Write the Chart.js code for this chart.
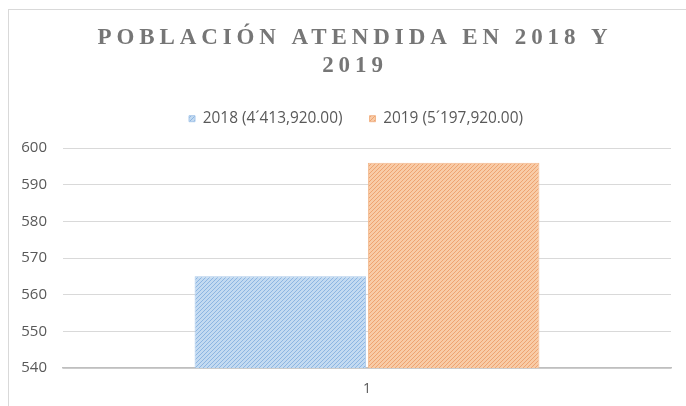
<!DOCTYPE html>
<html>
<head>
<meta charset="utf-8">
<script src="https://cdn.jsdelivr.net/npm/chart.js@4"></script>
<style>
  html, body { margin: 0; padding: 0; background: #fff; overflow: hidden; }
  #box { position: absolute; left: 8px; top: 9px; width: 700px; height: 420px; border: 1px solid #d9d9d9; }
  #wrap { position: absolute; left: 0; top: 0; width: 694px; height: 396px; }
</style>
</head>
<body>
<div id="box"><div id="wrap"><canvas id="myChart"></canvas></div></div>
<script>
var categories = ['1'];
var labels = ['2018 (4\u00b4413,920.00)', '2019 (5\u00b4197,920.00)'];
var values2018 = [565];
var values2019 = [596];
var titleLines = ['POBLACIÓN ATENDIDA EN 2018 Y', '2019'];

// rayado diagonal como en el original
function hatch(bg, line) {
    var c = document.createElement('canvas');
    c.width = 4; c.height = 4;
    var x = c.getContext('2d');
    x.fillStyle = bg;
    x.fillRect(0, 0, 4, 4);
    x.strokeStyle = line;
    x.lineWidth = 1;
    x.beginPath();
    x.moveTo(0, 4); x.lineTo(4, 0);
    x.moveTo(-1, 1); x.lineTo(1, -1);
    x.moveTo(3, 5); x.lineTo(5, 3);
    x.stroke();
    return x.createPattern(c, 'repeat');
}

var layoutTop = 74;
var plotTop = 138;

var titlePlugin = {
    id: 'spacedTitle',
    afterInit: function (chart) {
        // leyenda con altura fija para dejar el hueco hasta el área del gráfico
        var lg = chart.legend;
        if (lg) {
            var fit = lg.fit;
            lg.fit = function () {
                fit.call(this);
                this.height = plotTop - layoutTop;
            };
        }
    },
    afterLayout: function (chart) {
        // centrar la leyenda sobre todo el ancho, como el título
        var lg = chart.legend;
        if (lg) {
            lg.left = 0;
            lg.right = chart.width;
            lg.width = chart.width;
        }
    },
    afterDraw: function (chart) {
        var ctx = chart.ctx;
        ctx.save();
        ctx.font = 'bold 23px "Liberation Serif", serif';
        ctx.fillStyle = '#767676';
        ctx.textAlign = 'center';
        ctx.textBaseline = 'middle';
        if ('letterSpacing' in ctx) ctx.letterSpacing = '4.9px';
        var cx = chart.width / 2 - 1;
        ctx.fillText(titleLines[0], cx, 28);
        ctx.fillText(titleLines[1], cx, 56);
        ctx.restore();
    }
};

var ctx = document.getElementById('myChart').getContext('2d');

var popChart = new Chart(ctx, {
    type: 'bar',
    data: {
        labels: categories,
        datasets: [{
            label: labels[0],
            data: values2018,
            backgroundColor: hatch('#c3daf1', '#8db6e2'),
            borderColor: '#a9c8ea',
            borderWidth: 1
        }, {
            label: labels[1],
            data: values2019,
            backgroundColor: hatch('#f8cba6', '#eea371'),
            borderColor: '#f2b68a',
            borderWidth: 1
        }]
    },
    options: {
        responsive: true,
        maintainAspectRatio: false,
        animation: false,
        layout: { padding: { top: layoutTop, right: 32, bottom: 0, left: 0 } },
        datasets: { bar: { categoryPercentage: 0.57, barPercentage: 0.99 } },
        plugins: {
            title: { display: false },
            tooltip: { enabled: false },
            legend: {
                display: true,
                position: 'top',
                labels: {
                    boxWidth: 6,
                    boxHeight: 6,
                    padding: 27,
                    color: '#595959',
                    font: { family: '"Open Sans", sans-serif', size: 15.4 }
                }
            }
        },
        scales: {
            x: {
                grid: { display: false, drawTicks: false },
                border: { color: '#bfbfbf', width: 1.5 },
                ticks: { color: '#595959', padding: 13, font: { family: '"Open Sans", sans-serif', size: 14 } },
                afterFit: function (scale) { scale.height = 38; }
            },
            y: {
                min: 540,
                max: 600,
                grid: { color: '#d9d9d9', drawTicks: false },
                border: { display: false },
                ticks: { stepSize: 10, color: '#595959', padding: 16, font: { family: '"Open Sans", sans-serif', size: 15 } },
                afterFit: function (scale) { scale.width = 54; }
            }
        }
    },
    plugins: [titlePlugin]
});
</script>
</body>
</html>
